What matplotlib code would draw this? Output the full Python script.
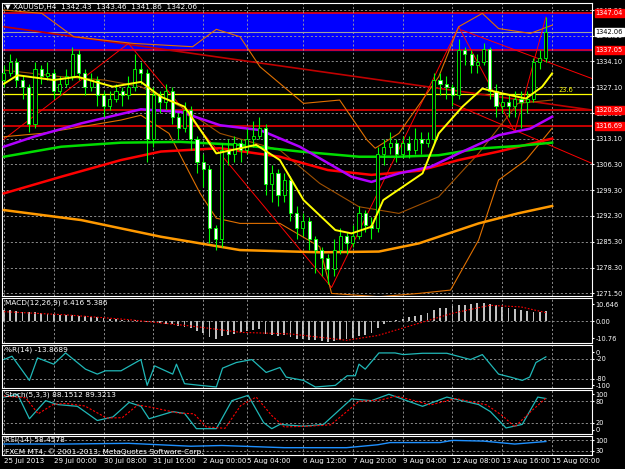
import numpy as np
import matplotlib
matplotlib.use("Agg")
from matplotlib import pyplot as plt
from matplotlib import transforms as mtrans

# ---- data (bar index 0..87, H4 bars) ----
closes = [1331, 1334, 1329, 1327, 1317, 1332, 1330, 1331, 1326, 1328,
          1330, 1336, 1331, 1327, 1329, 1325, 1322, 1324, 1326, 1325,
          1327, 1332, 1331, 1313, 1325, 1323, 1326, 1319, 1316, 1321,
          1313, 1307, 1305, 1289, 1286, 1310, 1309, 1312, 1310, 1313,
          1314, 1316, 1301, 1304, 1298, 1302, 1293, 1289, 1291, 1286,
          1283, 1281, 1278, 1283, 1287, 1285, 1287, 1293, 1290, 1289,
          1309, 1311, 1312, 1309, 1312, 1310, 1313, 1312, 1313, 1329,
          1328, 1327, 1325, 1337, 1336, 1333, 1334, 1337.5, 1326, 1322,
          1323, 1322, 1324, 1323, 1324, 1334, 1335, 1342.06]
opens = [1329] + closes[:-1]
highs = [1333, 1336, 1335, 1330, 1328, 1334, 1333, 1334, 1332, 1330,
         1332, 1338, 1337, 1332, 1331, 1330, 1326, 1326, 1328, 1327,
         1330, 1336, 1334, 1332, 1327, 1326, 1328, 1327, 1320, 1323,
         1322, 1314, 1309, 1306, 1290, 1312, 1313, 1314, 1313, 1316,
         1318, 1319, 1317, 1306, 1305, 1304, 1303, 1295, 1293, 1292,
         1287, 1284, 1282, 1286, 1289, 1288, 1290, 1295, 1294, 1292,
         1311, 1313, 1315, 1313, 1314, 1314, 1316, 1315, 1315, 1331,
         1331, 1330, 1328, 1340, 1338, 1337, 1336, 1339, 1338, 1328,
         1325, 1325, 1326, 1326, 1326, 1335, 1337, 1346]
lows = [1327, 1330, 1327, 1324, 1315, 1316, 1328, 1329, 1324, 1325,
        1327, 1329, 1329, 1325, 1326, 1322, 1319, 1321, 1323, 1322,
        1324, 1326, 1328, 1307, 1311, 1320, 1321, 1317, 1313, 1315,
        1310, 1304, 1300, 1285, 1283, 1284, 1306, 1307, 1307, 1309,
        1311, 1313, 1298, 1296, 1295, 1296, 1291, 1286, 1287, 1283,
        1277, 1276, 1274, 1276, 1282, 1282, 1284, 1286, 1288, 1286,
        1288, 1306, 1309, 1307, 1308, 1308, 1309, 1309, 1311, 1312,
        1325, 1324, 1322, 1324, 1333, 1331, 1331, 1333, 1324, 1319,
        1320, 1319, 1319, 1316, 1320, 1323, 1332, 1334]

# moving averages / bands (vertices: bar index, price)
yellow_k = [0, 2.2, 8, 11.8, 17.5, 22, 25.2, 29, 34.1, 40.5, 44.3, 48.1, 53.2, 55.8, 59, 60.9, 67.2, 69.8, 73.6, 76.8, 80, 83.8, 86.4, 88]
yellow_v = [1328, 1330.3, 1329, 1329.9, 1327.2, 1328.5, 1324.5, 1321.8, 1309.2, 1311.5, 1307.4, 1296.6, 1288.5, 1287.6, 1289.4, 1296.6, 1303.8, 1314.6, 1321.8, 1326.7, 1325.4, 1324, 1327.2, 1330.8]
purple_k = [0, 4.8, 12.4, 22, 28.4, 34.7, 41.1, 47.5, 55.8, 59, 63.4, 68.5, 73, 79.4, 84.5, 88]
purple_v = [1311, 1313.7, 1317.3, 1321.1, 1320.4, 1316.8, 1315.5, 1311, 1302.9, 1301.5, 1303.8, 1305.6, 1309.2, 1314.1, 1315.9, 1319.1]
green_k = [0, 9.2, 18.8, 28.4, 37.9, 47.5, 57, 63.4, 69.8, 76.2, 82.5, 88]
green_v = [1308.3, 1311, 1312.1, 1312.3, 1311.5, 1309.7, 1308.3, 1308.3, 1308.7, 1310.5, 1311.2, 1312.1]
red_k = [0, 9.2, 18.8, 25.2, 34.7, 44.3, 52, 59, 66.6, 73, 79.4, 88]
red_v = [1298.4, 1302.9, 1307.4, 1309.7, 1310.6, 1308.3, 1304.7, 1303.4, 1304.5, 1307.4, 1309.7, 1313.2]
orange_k = [0, 12.4, 25.2, 37.9, 50.7, 60.2, 66.6, 76.2, 82.5, 88]
orange_v = [1293.9, 1291.2, 1286.7, 1283.1, 1282.5, 1282.7, 1284.9, 1290.3, 1293, 1295]
bb_up_k = [0, 6.1, 11.2, 20.7, 30.3, 34.1, 37.9, 41.1, 48.1, 53.9, 58.3, 59.6, 63.4, 69.8, 73, 76.8, 79.4, 84.5, 88]
bb_up_v = [1347.9, 1347, 1340.7, 1338.9, 1338, 1342.7, 1340.7, 1332.6, 1322.7, 1323.6, 1312.8, 1310.6, 1314.6, 1329.9, 1343.4, 1347, 1342.9, 1341.6, 1343.8]
bb_mid_k = [0, 9.2, 16.2, 22, 28.4, 34.7, 44.3, 50.7, 57, 63.4, 69.8, 76.2, 82.5, 88]
bb_mid_v = [1331.7, 1329.9, 1329, 1327.2, 1321.8, 1314.6, 1310.1, 1301.1, 1294.8, 1293, 1297.5, 1309.2, 1322.7, 1323.6]
bb_lo_k = [0, 6.1, 18.8, 22, 26.5, 31.5, 34.1, 37.9, 44.3, 50.7, 52.6, 60.2, 66.6, 71.7, 76.2, 79.4, 83.8, 88]
bb_lo_v = [1313.7, 1314.6, 1318.2, 1319.5, 1314.6, 1298.4, 1291.7, 1290.3, 1290.3, 1284, 1271.4, 1270.5, 1271.4, 1272.3, 1285.8, 1302, 1307.4, 1316]
zigzag_k = [0, 20, 52.6, 73, 82, 87]
zigzag_v = [1313, 1338.9, 1273, 1343.4, 1315, 1346]

levels = [1347.04, 1337.05, 1320.80, 1316.69]
last_price = 1342.06
fibo_236 = 1325.1

macd_hist = [7, 6.8, 6.5, 6, 5.8, 5.5, 5, 4.8, 4.5, 4.2,
             4, 3.8, 3.5, 3, 2.8, 2.5, 2, 1.5, 1.2, 1,
             0.8, 0.6, 0.3, -0.5, -0.8, -1, -1.5, -2, -2.8, -3.5,
             -4.5, -6, -7.5, -10, -11, -9.5, -8.5, -8, -7, -6,
             -5.5, -5, -8, -8.5, -9, -8.8, -10, -11, -11, -11.5,
             -12, -12.5, -13, -12.5, -11.5, -11, -10.5, -9.5, -8.5, -7.5,
             -4, -2, -0.5, 0.5, 1.5, 2.5, 3.5, 4, 5, 7,
             8, 8.5, 9.5, 10, 10.5, 11, 11.5, 11.5, 11, 10,
             9, 8.5, 7.5, 7, 6.5, 6, 6, 6.4]
macd_sig_k = [0, 10, 20, 30, 38, 46, 55, 60, 66, 72, 78, 83, 87]
macd_sig_v = [6, 4, 1, -3, -7, -8, -12, -9, -2, 5, 10, 9, 5.4]

wpr_k = [0, 1.3, 4.1, 5.4, 8, 9.9, 13.1, 15, 16.3, 18.8, 22, 23, 24.2, 27.1, 27.7, 29, 31.5, 34.1, 35.1, 37.3, 39.8, 42.1,
         44.3, 45.3, 48.1, 50, 53.2, 55.1, 56.4, 57, 58, 60.2, 62.8, 64.1, 67.2, 71.1, 74.9, 76.8, 79.4, 81.3, 83.2, 84.4, 85.4, 87]
wpr_v = [-22, -12, -85, -17, -36, -2, -51, -66, -56, -56, -22, -100, -41, -66, -36, -95, -100, -105, -48, -31, -22, -61,
         -46, -75, -85, -105, -100, -71, -71, -36, -51, -2, -2, -7, -3, -3, -22, -7, -66, -75, -85, -75, -31, -13.87]

sto_k = [0, 2.2, 4.1, 6.7, 8.6, 11.8, 15, 17.5, 20.1, 22, 23.3, 27.1, 29, 30.9, 34.1, 36.6, 39.2, 41.7, 43, 44.3, 48.1,
         51.3, 55.8, 59, 61.8, 67.2, 71.1, 76.2, 78.1, 80.6, 83.2, 85.7, 87]
sto_v = [92, 100, 31, 82, 71, 66, 26, 36, 77, 66, 31, 51, 46, 3, 3, 82, 97, 20, 3, 15, 10, 15, 87, 82, 100, 66, 92, 71, 51, 5, 15, 92, 88]
sig_k = [0, 3.5, 5.5, 8, 10, 13, 16.5, 19, 21.5, 24, 28, 30.5, 32.5, 35.5, 38, 40.5, 43, 45, 49, 52.5, 57, 60.5, 63, 68.5, 72.5, 77.5, 80, 82, 84.5, 87]
sig_v = [95, 90, 45, 72, 74, 67, 33, 34, 70, 62, 47, 45, 8, 4, 68, 92, 40, 8, 10, 14, 80, 84, 95, 70, 88, 70, 40, 8, 50, 89]

rsi_k = [0, 10, 20, 30, 35, 45, 55, 60, 62, 70, 72, 77, 82, 87]
rsi_v = [55, 55, 56, 52, 53, 50, 50, 54, 57, 57, 60, 59, 55, 58.46]

xtick_k = [0, 8, 16, 24, 32, 39, 48, 56, 64, 72, 80, 88]
xtick_labels = ["25 Jul 2013", "29 Jul 00:00", "30 Jul 08:00", "31 Jul 16:00", "2 Aug 00:00", "5 Aug 04:00",
                "6 Aug 12:00", "7 Aug 20:00", "9 Aug 04:00", "12 Aug 08:00", "13 Aug 16:00", "15 Aug 00:00"]
price_ticks = [1271.50, 1278.30, 1285.30, 1292.30, 1299.30, 1306.30, 1313.10, 1320.10, 1327.10, 1334.10, 1340.90, 1347.90]

FS = 4.8
W, H = 625, 469
fig = plt.figure(figsize=(W / 100, H / 100), dpi=100, facecolor="black")
gridkw = dict(color="#a0a0a0", linestyle=(0, (2.5, 2.5)), linewidth=0.6)


def panel(top, bottom):
    ax = fig.add_axes([2 / W, 1 - bottom / H, 590 / W, (bottom - top) / H], facecolor="black")
    for s in ax.spines.values():
        s.set_color("white")
        s.set_linewidth(0.8)
    ax.set_xlim(-0.3, 94.4)
    ax.yaxis.tick_right()
    ax.tick_params(axis="y", colors="white", labelsize=FS, length=1.5, pad=1)
    ax.tick_params(axis="x", length=0, labelbottom=False)
    ax.set_xticks(xtick_k)
    ax.grid(True, **gridkw)
    return ax


# ---- main price panel ----
ax = panel(3, 296)
ax.set_ylim(1270.7, 1349.8)
ax.set_yticks(price_ticks)
ax.set_yticklabels([f"{p:.2f}" for p in price_ticks])
ax.axhspan(levels[1], levels[0], color="#0000ff", zorder=0)
for lv in levels:
    ax.axhline(lv, color="red", lw=1.1, zorder=1)
ax.axhline(last_price, color="#a0a0a0", lw=0.8, zorder=1)
ax.axhline(fibo_236, color="yellow", lw=0.9, zorder=1)
ax.text(89, fibo_236 + 0.4, "23.6", color="yellow", fontsize=FS, va="bottom")

ax.plot([0, 94.4], [1343.4, 1320.9], color="#c00000", lw=1.2, zorder=2)
ax.plot([73.5, 94.4], [1342.5, 1329.4], color="red", lw=0.7, zorder=2)
ax.plot([72, 94.4], [1322.7, 1306.5], color="red", lw=0.7, zorder=2)
ax.plot(zigzag_k, zigzag_v, color="red", lw=0.7, zorder=2)
ax.plot(bb_up_k, bb_up_v, color="#e07000", lw=0.8, zorder=2)
ax.plot(bb_mid_k, bb_mid_v, color="#a05000", lw=0.8, zorder=2)
ax.plot(bb_lo_k, bb_lo_v, color="#e07000", lw=0.8, zorder=2)
ax.plot(orange_k, orange_v, color="#ff9900", lw=1.8, zorder=3)
ax.plot(red_k, red_v, color="red", lw=1.8, zorder=3)
ax.plot(green_k, green_v, color="#00dd00", lw=1.8, zorder=3)
ax.plot(purple_k, purple_v, color="#b000ff", lw=1.8, zorder=3)
ax.plot(yellow_k, yellow_v, color="yellow", lw=1.4, zorder=5)

idx = np.arange(len(closes))
o = np.array(opens, float)
c = np.array(closes, float)
ax.vlines(idx, lows, highs, color="#00ff00", lw=0.8, zorder=4)
body_lo = np.minimum(o, c)
body_h = np.maximum(np.abs(c - o), 0.15)
face = ["black" if cc >= oo else "white" for oo, cc in zip(o, c)]
ax.bar(idx, body_h, bottom=body_lo, width=0.5, color=face, edgecolor="#00ff00", linewidth=0.6, zorder=4)

ax.text(0.005, 0.995, "\u25bc XAUUSD,H4  1342.43  1343.46  1341.86  1342.06", transform=ax.transAxes,
        color="white", fontsize=FS + 0.5, va="top")
tr = mtrans.blended_transform_factory(ax.transAxes, ax.transData)
for lv in levels:
    ax.text(1.006, lv, f"{lv:.2f}", transform=tr, color="white", fontsize=FS, va="center", ha="left",
            bbox=dict(boxstyle="square,pad=0.15", fc="red", ec="red"), zorder=10, clip_on=False)
ax.text(1.006, last_price, f"{last_price:.2f}", transform=tr, color="black", fontsize=FS, va="center", ha="left",
        bbox=dict(boxstyle="square,pad=0.15", fc="white", ec="white"), zorder=10, clip_on=False)

# ---- MACD ----
ax1 = panel(298, 343)
ax1.set_ylim(-13.7, 14.6)
ax1.grid(False)
ax1.set_yticks([-10.76, 0.0, 10.646])
ax1.set_yticklabels(["-10.76", "0.00", "10.646"])
for t in xtick_k:
    ax1.axvline(t, **gridkw)
ax1.axhline(0, **gridkw)
ax1.bar(idx, macd_hist, width=0.3, color="#c0c0c0")
ax1.plot(macd_sig_k, macd_sig_v, color="red", lw=0.8, linestyle=(0, (1.5, 1.5)))
ax1.text(0.005, 0.96, "MACD(12,26,9) 6.416 5.386", transform=ax1.transAxes, color="white", fontsize=FS + 0.5, va="top")

# ---- Williams %R ----
ax2 = panel(345, 388)
ax2.set_ylim(-108, 22)
ax2.grid(False)
ax2.set_yticks([0, -20, -80, -100])
ax2.set_yticklabels(["0", "-20", "-80", "-100"])
for t in xtick_k:
    ax2.axvline(t, **gridkw)
for lv in (-20, -80):
    ax2.axhline(lv, **gridkw)
ax2.plot(wpr_k, wpr_v, color="#20b8b8", lw=0.9)
ax2.text(0.005, 0.96, "%R(14) -13.8689", transform=ax2.transAxes, color="white", fontsize=FS + 0.5, va="top")

# ---- Stochastic ----
ax3 = panel(390, 434)
ax3.set_ylim(-12, 112)
ax3.grid(False)
ax3.set_yticks([100, 80, 20, 0])
ax3.set_yticklabels(["100", "80", "20", "0"])
for t in xtick_k:
    ax3.axvline(t, **gridkw)
for lv in (80, 20):
    ax3.axhline(lv, **gridkw)
ax3.plot(sto_k, sto_v, color="#20b8b8", lw=0.9)
ax3.plot(sig_k, sig_v, color="red", lw=0.8, linestyle=(0, (2, 1.5)))
ax3.text(0.005, 0.96, "Stoch(5,3,3) 88.1512 89.3213", transform=ax3.transAxes, color="white", fontsize=FS + 0.5, va="top")

# ---- RSI ----
ax4 = panel(436, 455)
ax4.set_ylim(40, 66)
ax4.grid(False)
ax4.set_yticks([60, 46])
ax4.set_yticklabels(["100", "30"])
for t in xtick_k:
    ax4.axvline(t, **gridkw)
for lv in (60, 46):
    ax4.axhline(lv, **gridkw)
ax4.plot(rsi_k, rsi_v, color="#1e90ff", lw=1.0)
ax4.text(0.005, 0.98, "RSI(14) 58.4578", transform=ax4.transAxes, color="white", fontsize=FS + 0.5, va="top")
ax4.text(0.005, 0.02, "FXCM MT4, \u00a9 2001-2013, MetaQuotes Software Corp.", transform=ax4.transAxes,
         color="white", fontsize=FS + 0.5, va="bottom")
ax4.tick_params(axis="x", labelbottom=True, colors="white", labelsize=FS + 0.3, pad=2)
ax4.set_xticklabels(xtick_labels, ha="left")

fig.savefig("out.png", dpi=100, facecolor="black")
